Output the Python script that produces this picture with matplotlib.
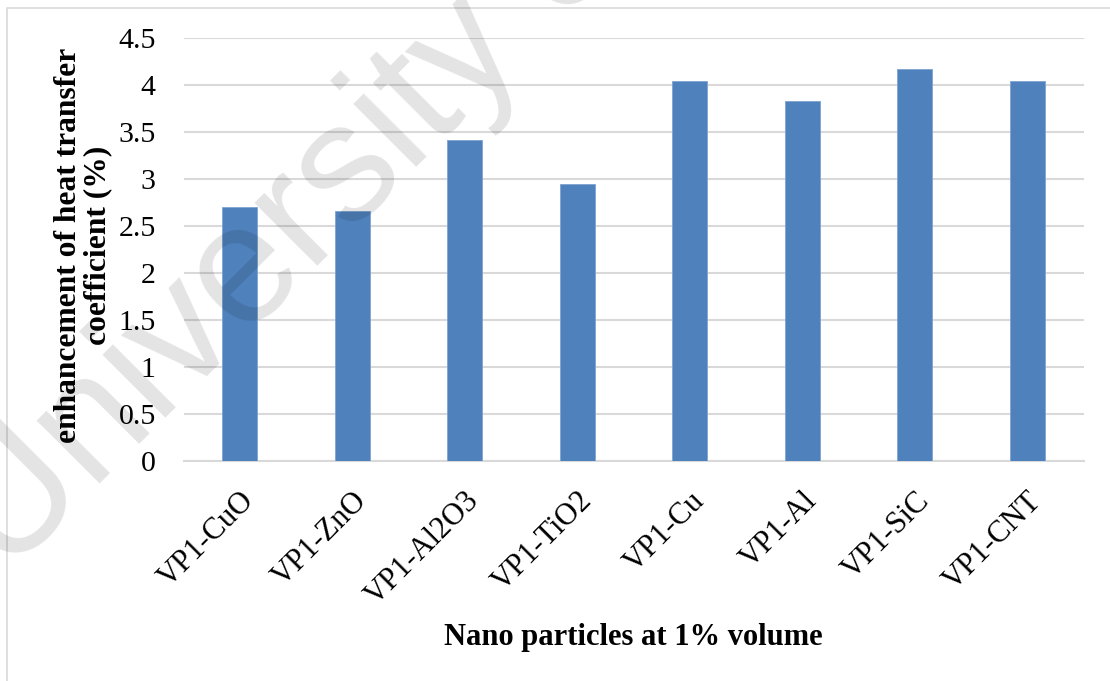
import matplotlib
matplotlib.use("Agg")
import matplotlib.pyplot as plt
from matplotlib.patches import Rectangle
from matplotlib.transforms import ScaledTranslation

# Enhancement of heat transfer coefficient for each nanofluid (1% volume)
categories = ["VP1-CuO", "VP1-ZnO", "VP1-Al2O3", "VP1-TiO2",
              "VP1-Cu", "VP1-Al", "VP1-SiC", "VP1-CNT"]
enhancement = [2.71, 2.66, 3.42, 2.95, 4.05, 3.83, 4.17, 4.05]
yticks = [0, 0.5, 1, 1.5, 2, 2.5, 3, 3.5, 4, 4.5]
ytick_labels = ["0", "0.5", "1", "1.5", "2", "2.5", "3", "3.5", "4", "4.5"]

W, H = 1110, 681
fig = plt.figure(figsize=(W / 100, H / 100), dpi=100)
fig.patch.set_facecolor("white")

serif = ["Liberation Serif", "DejaVu Serif"]

# light chart-area frame
fig.patches.append(Rectangle((7 / W, -0.1), 1.2, 1 - 8 / H + 0.1,
                             transform=fig.transFigure, fill=False,
                             edgecolor="#d9d9d9", linewidth=1.2))

ax = fig.add_axes([183.5 / W, 1 - 461.3 / H, 900 / W, (461.3 - 38.3) / H])
ax.set_facecolor("none")

x = range(len(categories))
ax.bar(x, enhancement, width=0.31, color="#4f81bd",
       edgecolor="#7ea3d2", linewidth=0.6, zorder=3)

ax.set_xlim(-0.5, len(categories) - 0.5)
ax.set_ylim(0, 4.5)
ax.set_yticks(yticks)
ax.set_yticklabels(ytick_labels, fontfamily=serif, fontsize=21.5)
ax.set_xticks(list(x))
ax.set_xticklabels(categories, fontfamily=serif, fontsize=22,
                   rotation=45, ha="right", va="top", rotation_mode="anchor")
shift = ScaledTranslation(-5 / 100, 0, fig.dpi_scale_trans)
for lbl in ax.get_xticklabels():
    lbl.set_transform(lbl.get_transform() + shift)

ax.tick_params(axis="y", length=0, pad=20)
ax.tick_params(axis="x", length=0, pad=18)
for s in ["top", "right", "left"]:
    ax.spines[s].set_visible(False)
ax.spines["bottom"].set_color("#d9d9d9")
ax.spines["bottom"].set_linewidth(1.5)
ax.spines["bottom"].set_zorder(2)

ax.yaxis.grid(True, color="#d9d9d9", linewidth=1.5, zorder=0)
ax.set_axisbelow(True)

ax.set_ylabel("enhancement of heat transfer\ncoefficient (%)",
              fontfamily=serif, fontweight="bold", fontsize=22.7,
              linespacing=0.98)
ax.yaxis.set_label_coords(-0.0794, 0.511)
ax.set_xlabel("Nano particles at 1% volume", fontfamily=serif,
              fontweight="bold", fontsize=22)
ax.xaxis.set_label_coords(0.5, -0.382)

# watermark
fig.text(6 / W, 1 - 577 / H, "University of Malaya",
         fontfamily=["Liberation Sans", "DejaVu Sans"], fontsize=121,
         color="black", alpha=0.11, rotation=45, rotation_mode="anchor",
         ha="left", va="baseline", zorder=10)

fig.savefig("out.png", dpi=100)
